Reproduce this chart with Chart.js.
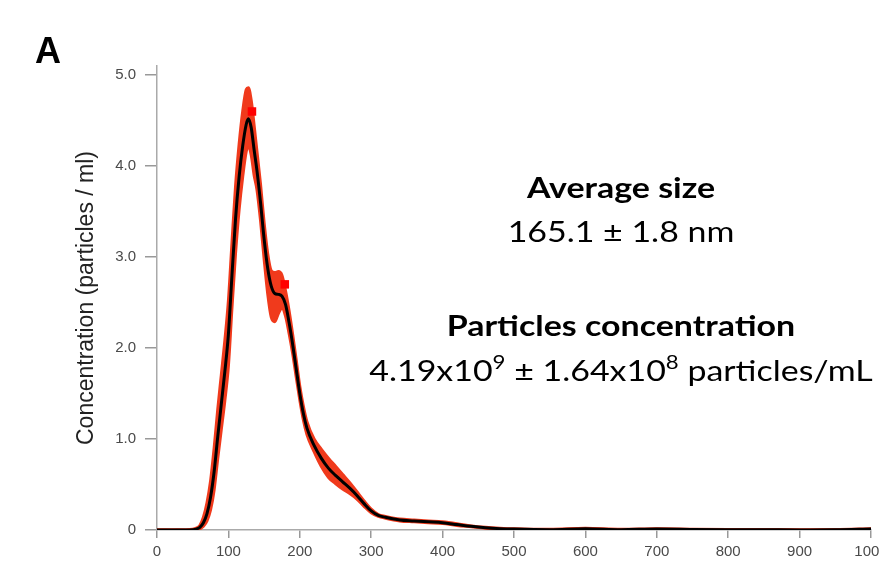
<!DOCTYPE html>
<html>
<head>
<meta charset="utf-8">
<script src="https://cdn.jsdelivr.net/npm/chart.js@4.4.1/dist/chart.umd.min.js"></script>
<style>
  html, body { margin: 0; padding: 0; background: #fff; overflow: hidden; }
  #wrap { width: 900px; height: 568px; position: relative; }
</style>
</head>
<body>
<div id="wrap"><canvas id="chart"></canvas></div>
<script>
// particle size (nm)
const sizeNm = [0, 20, 40, 50, 55, 60, 65, 70, 75, 80, 85, 90, 95, 100, 105, 110, 115, 120, 125, 128,
  132, 136, 140, 145, 150, 155, 160, 165, 170, 175, 180, 185, 190, 195, 200, 205, 210, 220, 230, 240,
  250, 260, 270, 280, 290, 300, 310, 320, 340, 360, 380, 400, 420, 440, 460, 480, 500, 550, 600, 650,
  700, 750, 800, 850, 900, 950, 1000];

// mean concentration
const meanConc = [0, 0, 0, 0.003, 0.01, 0.03, 0.08, 0.18, 0.36, 0.64, 1.02, 1.38, 1.74, 2.15, 2.8, 3.42, 3.88, 4.22, 4.46, 4.52,
  4.42, 4.18, 3.95, 3.6, 3.2, 2.88, 2.68, 2.6, 2.59, 2.57, 2.48, 2.28, 2.04, 1.77, 1.5, 1.28, 1.12, 0.93, 0.79, 0.68,
  0.6, 0.53, 0.46, 0.38, 0.29, 0.21, 0.16, 0.14, 0.11, 0.1, 0.09, 0.08, 0.06, 0.04, 0.025, 0.015, 0.01, 0.004, 0.015, 0.004,
  0.01, 0.006, 0.003, 0.002, 0.001, 0.002, 0.01];

// +/- error band edges
const upperConc = [0.004, 0.004, 0.004, 0.008, 0.02, 0.05, 0.14, 0.3, 0.54, 0.9, 1.32, 1.7, 2.08, 2.52, 3.16, 3.78, 4.24, 4.6, 4.84, 4.86,
  4.72, 4.45, 4.16, 3.8, 3.38, 3.04, 2.85, 2.83, 2.84, 2.8, 2.63, 2.41, 2.15, 1.87, 1.58, 1.36, 1.19, 1.0, 0.89, 0.79,
  0.7, 0.61, 0.52, 0.42, 0.32, 0.23, 0.17, 0.15, 0.12, 0.11, 0.1, 0.09, 0.07, 0.045, 0.03, 0.02, 0.013, 0.007, 0.018, 0.007,
  0.013, 0.009, 0.006, 0.005, 0.004, 0.005, 0.013];

const lowerConc = [-0.004, -0.004, -0.004, -0.002, 0.0, 0.012, 0.04, 0.1, 0.22, 0.44, 0.78, 1.1, 1.42, 1.8, 2.44, 3.04, 3.52, 3.88, 4.16, 4.22,
  4.12, 3.9, 3.74, 3.4, 2.98, 2.6, 2.34, 2.29, 2.38, 2.44, 2.35, 2.16, 1.94, 1.68, 1.43, 1.21, 1.05, 0.86, 0.7, 0.58,
  0.51, 0.45, 0.4, 0.34, 0.26, 0.19, 0.15, 0.13, 0.1, 0.09, 0.08, 0.07, 0.05, 0.035, 0.02, 0.01, 0.007, 0.001, 0.012, 0.001,
  0.007, 0.003, 0.0, -0.001, -0.002, -0.001, 0.007];

// bright red flags on the band
const flagNm = [133, 179];
const flagConc = [4.6, 2.7];

const yTicks = [0, 1, 2, 3, 4, 5];
const xTicks = [0, 100, 200, 300, 400, 500, 600, 700, 800, 900, 1000];

const pts = ys => sizeNm.map((x, i) => ({ x, y: ys[i] }));
const bandRed = 'rgb(240, 58, 28)';
const textFont = 'Lato, "Open Sans", sans-serif';
const stretch = 1.17;

// draws text stretched horizontally around cx
function wideText(ctx, parts, cx, baseline) {
  let total = 0;
  parts.forEach(p => { ctx.font = p.font; total += ctx.measureText(p.text).width; });
  ctx.save();
  ctx.translate(cx, 0);
  ctx.scale(stretch, 1);
  let x = -total / 2;
  parts.forEach(p => {
    ctx.font = p.font;
    ctx.fillText(p.text, x, baseline + (p.dy || 0));
    x += ctx.measureText(p.text).width;
  });
  ctx.restore();
}

const annotations = {
  id: 'annotations',
  afterDraw(chart) {
    const { ctx } = chart;
    ctx.save();
    ctx.fillStyle = '#000';
    ctx.textBaseline = 'alphabetic';
    ctx.textAlign = 'left';

    ctx.font = 'bold 36px "Liberation Sans", Arial, sans-serif';
    ctx.fillText('A', 35, 63);

    const bold = 'bold 29px ' + textFont;
    const reg = '29px ' + textFont;
    const sup = '19px ' + textFont;
    const cx = 621;
    wideText(ctx, [{ text: 'Average size', font: bold }], cx, 198);
    wideText(ctx, [{ text: '165.1 \u00b1 1.8 nm', font: reg }], cx, 242);
    wideText(ctx, [{ text: 'Particles concentration', font: bold }], cx, 336);
    wideText(ctx, [
      { text: '4.19x10', font: reg },
      { text: '9', font: sup, dy: -12 },
      { text: ' \u00b1 1.64x10', font: reg },
      { text: '8', font: sup, dy: -12 },
      { text: ' particles/mL', font: reg }
    ], cx, 381);
    ctx.restore();
  }
};

new Chart(document.getElementById('chart'), {
  type: 'line',
  data: {
    datasets: [
      {
        label: 'upper',
        data: pts(upperConc),
        order: 3,
        borderColor: bandRed,
        borderWidth: 3,
        backgroundColor: bandRed,
        fill: '+1',
        pointRadius: 0,
        cubicInterpolationMode: 'monotone'
      },
      {
        label: 'lower',
        data: pts(lowerConc),
        order: 3,
        borderColor: bandRed,
        borderWidth: 3,
        backgroundColor: bandRed,
        fill: false,
        pointRadius: 0,
        cubicInterpolationMode: 'monotone'
      },
      {
        label: 'flags',
        data: flagNm.map((x, i) => ({ x, y: flagConc[i] })),
        order: 2,
        showLine: false,
        pointStyle: 'rect',
        pointRadius: 6,
        pointBackgroundColor: '#ff0000',
        pointBorderWidth: 0
      },
      {
        label: 'mean',
        data: pts(meanConc),
        order: 1,
        borderColor: '#000',
        borderWidth: 3,
        fill: false,
        pointRadius: 0,
        cubicInterpolationMode: 'monotone'
      }
    ]
  },
  options: {
    responsive: true,
    maintainAspectRatio: false,
    animation: false,
    events: [],
    layout: { padding: { left: 73, top: 66, right: 29, bottom: 0 } },
    plugins: {
      legend: { display: false },
      tooltip: { enabled: false }
    },
    scales: {
      x: {
        type: 'linear',
        min: 0,
        max: 1000,
        afterBuildTicks: s => { s.ticks = xTicks.map(v => ({ value: v })); },
        afterFit: s => { s.height = 38; },
        grid: { drawOnChartArea: false, tickLength: 8, color: '#999', lineWidth: 1.5 },
        border: { color: '#aaa', width: 1.5 },
        ticks: {
          padding: 5,
          color: '#4a4a4a',
          maxRotation: 0,
          font: { family: '"Liberation Sans", Arial, sans-serif', size: 15 },
          callback: v => String(v)
        }
      },
      y: {
        min: 0,
        max: 5.1,
        afterBuildTicks: s => { s.ticks = yTicks.map(v => ({ value: v })); },
        afterFit: s => { s.width = 84; },
        grid: { drawOnChartArea: false, tickLength: 12, color: '#999', lineWidth: 1.5 },
        border: { color: '#aaa', width: 1.5 },
        ticks: {
          padding: 9,
          color: '#4a4a4a',
          font: { family: '"Liberation Sans", Arial, sans-serif', size: 15 },
          callback: v => v === 0 ? '0' : v.toFixed(1)
        },
        title: {
          display: true,
          text: 'Concentration (particles / ml)',
          color: '#222',
          padding: { top: 0, bottom: 0 },
          font: { family: '"Liberation Sans", Arial, sans-serif', size: 23 }
        }
      }
    }
  },
  plugins: [annotations]
});
</script>
</body>
</html>
